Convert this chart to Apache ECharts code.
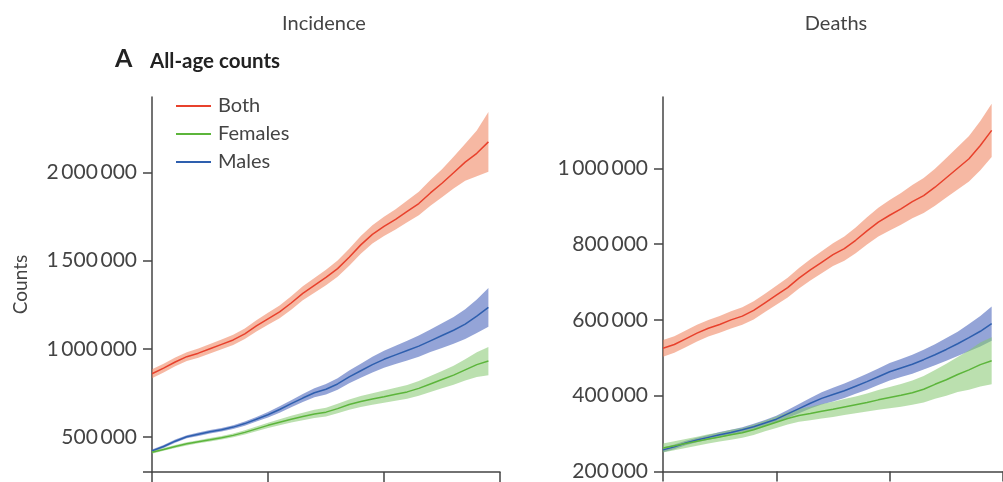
<!DOCTYPE html>
<html>
<head>
<meta charset="utf-8">
<script src="https://cdn.jsdelivr.net/npm/echarts@6/dist/echarts.min.js"></script>
<style>
html,body{margin:0;padding:0;background:#fff;}
#chart{width:1003px;height:482px;}
</style>
</head>
<body>
<div id="chart"></div>
<script>
// ---------- data ----------
const years = [1990,1991,1992,1993,1994,1995,1996,1997,1998,1999,2000,2001,2002,2003,2004,2005,2006,2007,2008,2009,2010,2011,2012,2013,2014,2015,2016,2017,2018,2019];

// Incidence, all-age counts
const incBoth      = [858000,890000,925000,955000,975000,1000000,1025000,1050000,1085000,1130000,1170000,1210000,1260000,1315000,1360000,1405000,1455000,1520000,1590000,1650000,1695000,1735000,1780000,1825000,1885000,1940000,2000000,2060000,2110000,2175000];
const incBothLow   = [833000,865000,900000,930000,949000,973000,997000,1021000,1055000,1098000,1136000,1174000,1222000,1275000,1318000,1361000,1409000,1472000,1540000,1598000,1640000,1677000,1718000,1758000,1812000,1860000,1910000,1955000,1980000,2005000];
const incBothHigh  = [883000,915000,950000,980000,1001000,1027000,1053000,1079000,1115000,1162000,1204000,1246000,1298000,1355000,1402000,1449000,1501000,1568000,1640000,1702000,1750000,1793000,1842000,1892000,1958000,2020000,2090000,2165000,2240000,2345000];

const incMales     = [420000,445000,475000,500000,515000,528000,540000,555000,575000,600000,625000,655000,688000,720000,750000,770000,800000,840000,875000,910000,940000,965000,990000,1015000,1045000,1075000,1105000,1140000,1185000,1235000];
const incMalesLow  = [412000,437000,466000,491000,505000,518000,530000,544000,563000,587000,609000,637000,668000,697000,724000,740000,767000,804000,835000,865000,892000,913000,934000,955000,981000,1005000,1029000,1056000,1090000,1125000];
const incMalesHigh = [428000,453000,484000,509000,525000,538000,550000,566000,587000,613000,641000,673000,708000,743000,776000,800000,833000,876000,915000,955000,988000,1017000,1046000,1075000,1109000,1145000,1181000,1224000,1280000,1345000];

const incFemales     = [412000,428000,445000,460000,472000,483000,495000,508000,525000,545000,565000,583000,600000,615000,630000,640000,660000,683000,700000,715000,728000,742000,755000,775000,800000,825000,850000,880000,910000,930000];
const incFemalesLow  = [404000,420000,437000,451000,463000,473000,485000,497000,513000,532000,550000,566000,581000,594000,607000,615000,633000,654000,669000,682000,693000,705000,716000,733000,755000,776000,796000,820000,840000,850000];
const incFemalesHigh = [420000,436000,453000,469000,481000,493000,505000,519000,537000,558000,580000,600000,619000,636000,653000,665000,687000,712000,731000,748000,763000,779000,794000,817000,845000,874000,904000,940000,980000,1010000];

// Deaths, all-age counts
const dthBoth      = [525000,535000,550000,565000,578000,588000,600000,610000,625000,645000,665000,685000,710000,732000,752000,772000,788000,810000,835000,858000,876000,893000,912000,928000,950000,975000,1000000,1025000,1060000,1100000];
const dthBothLow   = [503000,513000,528000,543000,556000,566000,577000,587000,601000,621000,640000,659000,683000,704000,723000,742000,756000,776000,799000,820000,836000,851000,868000,882000,901000,923000,944000,965000,995000,1030000];
const dthBothHigh  = [547000,557000,572000,587000,600000,610000,623000,633000,649000,669000,690000,711000,737000,760000,781000,802000,820000,844000,871000,896000,916000,935000,956000,974000,999000,1027000,1056000,1085000,1125000,1170000];

const dthMales     = [257000,265000,275000,283000,290000,297000,303000,310000,318000,328000,338000,352000,366000,380000,393000,403000,413000,425000,437000,450000,463000,473000,483000,495000,508000,522000,537000,553000,570000,590000];
const dthMalesLow  = [251000,259000,269000,277000,284000,290000,296000,303000,310000,320000,329000,342000,354000,366000,377000,385000,394000,405000,416000,428000,440000,449000,458000,469000,480000,492000,505000,517000,530000,545000];
const dthMalesHigh = [263000,271000,281000,289000,296000,304000,310000,317000,326000,336000,347000,362000,378000,394000,409000,421000,432000,445000,458000,472000,486000,497000,508000,521000,536000,552000,569000,589000,610000,635000];

const dthFemales     = [262000,268000,274000,280000,286000,291000,297000,302000,310000,320000,330000,340000,348000,353000,359000,364000,370000,376000,382000,389000,395000,401000,408000,417000,430000,442000,456000,468000,482000,492000];
const dthFemalesLow  = [250000,256000,262000,268000,274000,279000,284000,289000,296000,306000,315000,324000,331000,335000,340000,344000,349000,354000,358000,363000,367000,371000,376000,382000,392000,400000,410000,416000,424000,430000];
const dthFemalesHigh = [274000,280000,286000,292000,298000,303000,310000,315000,324000,334000,345000,356000,365000,371000,378000,384000,391000,398000,406000,415000,423000,431000,440000,452000,468000,484000,502000,520000,540000,554000];

const xTicks = [1990, 2000, 2010, 2020];
const incYTicks = [500000, 1000000, 1500000, 2000000];
const dthYTicks = [200000, 400000, 600000, 800000, 1000000];

// ---------- styling ----------
const FONT = 'Lato';
const TXT = '#444';
const AX = '#444';
const C = {
  Both:    {line:'#e8412c', band:'rgba(238,125,88,0.55)'},
  Females: {line:'#5cb53b', band:'rgba(132,198,109,0.55)'},
  Males:   {line:'#2e5fae', band:'rgba(60,90,182,0.55)'}
};

function fmt(v){ return String(v).replace(/\B(?=(\d{3})+(?!\d))/g, '\u2009'); }
function pairs(arr){ return years.map((y,i)=>[y, arr[i]]); }

function band(name, lo, hi, gi){
  const data = years.map((y,i)=>[y, lo[i], hi[i]]);
  return {
    type:'custom', name:name+'_band', xAxisIndex:gi, yAxisIndex:gi, silent:true, z:1,
    data:data, encode:{x:0, y:[1,2]},
    renderItem:function(params, api){
      if (params.dataIndex !== 0) return null;
      const top = data.map(d=>api.coord([d[0], d[2]]));
      const bot = data.map(d=>api.coord([d[0], d[1]])).reverse();
      return {type:'polygon', shape:{points:top.concat(bot)}, style:{fill:C[name].band}};
    }
  };
}
function line(name, vals, gi){
  return {type:'line', name:name, xAxisIndex:gi, yAxisIndex:gi, data:pairs(vals), symbol:'none',
          lineStyle:{color:C[name].line, width:1.5}, itemStyle:{color:C[name].line}, z:3};
}

function xAxis(gi){
  return {type:'value', gridIndex:gi, min:1990, max:2020, interval:10,
    axisLine:{show:true, onZero:false, lineStyle:{color:AX, width:1.5}},
    axisTick:{show:true, length:10, lineStyle:{color:AX, width:1.5}, customValues:xTicks},
    axisLabel:{show:false}, splitLine:{show:false}};
}
function yAxis(gi, min, max, labels, ticks, name){
  return {type:'value', gridIndex:gi, min:min, max:max,
    axisLine:{show:true, lineStyle:{color:AX, width:1.5}},
    axisTick:{show:true, length:9, lineStyle:{color:AX, width:1.5}, customValues:ticks},
    axisLabel:{customValues:labels, formatter:fmt, fontSize:21, color:TXT, fontFamily:FONT, margin:15},
    splitLine:{show:false},
    name:name, nameLocation:'middle', nameGap:122,
    nameTextStyle:{fontSize:19, color:TXT, fontFamily:FONT}};
}

const option = {
  animation:false,
  backgroundColor:'#fff',
  grid:[
    {left:152, top:97, width:348, height:375},
    {left:663, top:97, width:349, height:375}
  ],
  xAxis:[xAxis(0), xAxis(1)],
  yAxis:[
    yAxis(0, 300000, 2430000, incYTicks, [300000].concat(incYTicks), 'Counts'),
    yAxis(1, 200000, 1188000, dthYTicks, dthYTicks, '')
  ],
  legend:{orient:'vertical', left:176, top:96, padding:0, itemWidth:35, itemHeight:2, itemGap:8, icon:'rect',
    textStyle:{fontSize:20, color:TXT, fontFamily:FONT, lineHeight:20, padding:[0,0,0,2]},
    data:['Both','Females','Males']},
  graphic:[
    {type:'text', x:324, y:24, style:{text:'Incidence', align:'center', verticalAlign:'middle', fontSize:20, fontFamily:FONT, fill:TXT}},
    {type:'text', x:836, y:24, style:{text:'Deaths', align:'center', verticalAlign:'middle', fontSize:20, fontFamily:FONT, fill:TXT}},
    {type:'text', x:115, y:59, style:{text:'A', align:'left', verticalAlign:'middle', fontSize:25, fontWeight:'bold', fontFamily:FONT, fill:'#222'}},
    {type:'text', x:150, y:61, style:{text:'All-age counts', align:'left', verticalAlign:'middle', fontSize:20.5, fontWeight:'bold', fontFamily:FONT, fill:'#222'}}
  ],
  series:[
    band('Both', incBothLow, incBothHigh, 0),
    band('Males', incMalesLow, incMalesHigh, 0),
    band('Females', incFemalesLow, incFemalesHigh, 0),
    line('Both', incBoth, 0), line('Males', incMales, 0), line('Females', incFemales, 0),
    band('Both', dthBothLow, dthBothHigh, 1),
    band('Males', dthMalesLow, dthMalesHigh, 1),
    band('Females', dthFemalesLow, dthFemalesHigh, 1),
    line('Both', dthBoth, 1), line('Males', dthMales, 1), line('Females', dthFemales, 1)
  ]
};

const chart = echarts.init(document.getElementById('chart'), null, {renderer:'canvas'});
chart.setOption(option);
</script>
</body>
</html>
